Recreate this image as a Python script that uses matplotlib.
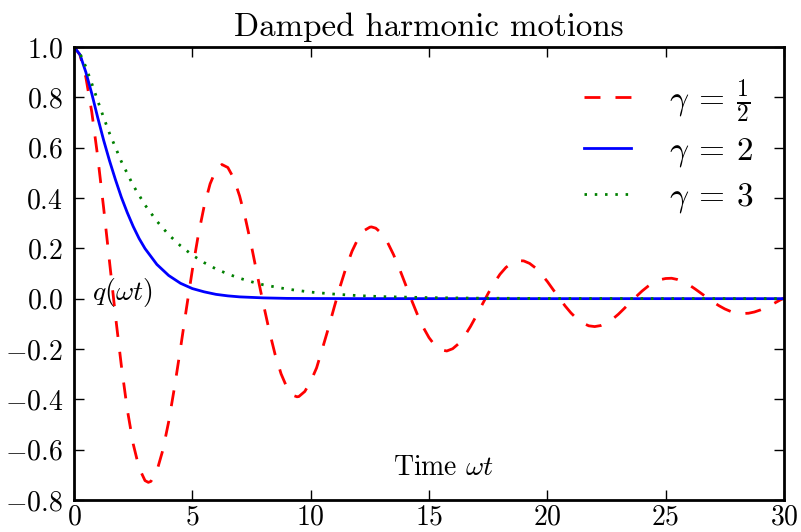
import matplotlib
matplotlib.use("Agg")
import matplotlib.pyplot as plt

plt.rcParams['font.family'] = 'serif'
plt.rcParams['font.serif'] = ['cmr10']
plt.rcParams['mathtext.fontset'] = 'cm'
plt.rcParams['axes.formatter.use_mathtext'] = True
plt.rcParams['lines.scale_dashes'] = False

# values
t_half = [0, 0.25, 0.5, 0.75, 1, 1.25, 1.5, 1.75, 2, 2.25, 2.5, 2.75, 3, 3.14,
          3.25, 3.5, 3.75, 4, 4.25, 4.5, 4.75, 5, 5.25, 5.5, 5.75, 6, 6.25,
          6.5, 6.75, 7, 7.25, 7.5, 7.75, 8, 8.25, 8.5, 8.75, 9, 9.25, 9.42,
          9.5, 9.75, 10, 10.25, 10.5, 10.75, 11, 11.25, 11.5, 11.75, 12, 12.25,
          12.5, 12.57, 12.75, 13, 13.25, 13.5, 13.75, 14, 14.25, 14.5, 14.75,
          15, 15.25, 15.5, 15.75, 16, 16.25, 16.5, 16.75, 17, 17.25, 17.5,
          17.75, 18, 18.25, 18.5, 18.75, 19, 19.25, 19.5, 19.75, 20, 20.25,
          20.5, 20.75, 21, 21.25, 21.5, 21.75, 22, 22.25, 22.5, 22.75, 23,
          23.25, 23.5, 23.75, 24, 24.25, 24.5, 24.75, 25, 25.25, 25.5, 25.75,
          26, 26.25, 26.5, 26.75, 27, 27.25, 27.5, 27.75, 28, 28.25, 28.5,
          28.75, 29, 29.25, 29.5, 29.75, 30]
q_half = [1.0, 0.969, 0.880, 0.742, 0.565, 0.362, 0.147, -0.067, -0.266,
          -0.440, -0.577, -0.673, -0.723, -0.730, -0.726, -0.685, -0.603,
          -0.489, -0.350, -0.197, -0.039, 0.114, 0.252, 0.368, 0.456, 0.512,
          0.533, 0.521, 0.478, 0.407, 0.315, 0.208, 0.091, -0.021, -0.128,
          -0.223, -0.299, -0.354, -0.384, -0.390, -0.389, -0.369, -0.329,
          -0.275, -0.197, -0.117, -0.032, 0.050, 0.125, 0.189, 0.238, 0.270,
          0.284, 0.285, 0.280, 0.259, 0.223, 0.175, 0.119, 0.058, -0.003,
          -0.061, -0.113, -0.155, -0.186, -0.203, -0.208, -0.199, -0.179,
          -0.149, -0.111, -0.068, -0.023, 0.021, 0.062, 0.097, 0.124, 0.142,
          0.151, 0.150, 0.140, 0.122, 0.097, 0.068, 0.035, 0.003, -0.029,
          -0.057, -0.080, -0.097, -0.108, -0.111, -0.107, -0.097, -0.082,
          -0.062, -0.039, -0.015, 0.008, 0.030, 0.049, 0.065, 0.075, 0.080,
          0.081, 0.076, 0.067, 0.054, 0.038, 0.021, 0.004, -0.013, -0.028,
          -0.041, -0.051, -0.057, -0.059, -0.058, -0.053, -0.045, -0.035,
          -0.023, -0.010, 0.003]

t_two = [0, 0.25, 0.5, 0.75, 1, 1.25, 1.5, 1.75, 2, 2.25, 2.5, 2.75, 3, 3.5,
         4, 4.5, 5, 5.5, 6, 6.5, 7, 7.5, 8, 9, 10, 12, 15, 20, 30]
q_two = [1.0, 0.97, 0.90, 0.815, 0.72, 0.63, 0.548, 0.473, 0.403, 0.342,
         0.287, 0.239, 0.199, 0.136, 0.092, 0.061, 0.040, 0.027, 0.017, 0.011,
         0.007, 0.005, 0.003, 0.001, 0.0005, 0.0001, 0, 0, 0]

t_three = [0, 0.25, 0.5, 0.75, 1, 1.25, 1.5, 2, 2.5, 3, 3.5, 4, 4.5, 5, 5.5,
           6, 6.5, 7, 7.5, 8, 9, 10, 11, 12, 13, 14, 15, 17, 20, 25, 30]
q_three = [1.0, 0.975, 0.921, 0.855, 0.787, 0.720, 0.657, 0.545, 0.450, 0.372,
           0.308, 0.254, 0.210, 0.173, 0.143, 0.118, 0.098, 0.081, 0.067,
           0.055, 0.038, 0.026, 0.018, 0.012, 0.008, 0.006, 0.004, 0.002,
           0.0006, 0.0001, 0]

labels = [r'$\gamma\:=\:\frac{1}{2}$', r'$\gamma\:=\:2$', r'$\gamma\:=\:3$']

fig = plt.figure(figsize=(8.01, 5.32), dpi=100)
ax = fig.add_axes([0.0924, 0.0602, 0.8864, 0.8515])

ax.plot(t_half, q_half, color='red', lw=2, dashes=(11.5, 10.8), label=labels[0])
ax.plot(t_two, q_two, color='blue', lw=2, label=labels[1])
ax.plot(t_three, q_three, color='green', lw=2, dashes=(1.8, 5.6), label=labels[2])

ax.set_xlim(0, 30)
ax.set_ylim(-0.8, 1.0)
ax.set_xticks([0, 5, 10, 15, 20, 25, 30])
ax.set_yticks([-0.8, -0.6, -0.4, -0.2, 0.0, 0.2, 0.4, 0.6, 0.8, 1.0])
ax.tick_params(direction='in', length=7, width=1, labelsize=20, pad=3,
               top=True, right=True)
ax.tick_params(axis='y', pad=8)
for s in ax.spines.values():
    s.set_linewidth(2)

ax.set_title('Damped harmonic motions', fontsize=23.7, pad=8)
ax.set_xlabel(r'Time $\omega t$', fontsize=20)
ax.xaxis.set_label_coords(0.52, 0.1)
ax.set_ylabel(r'$q(\omega t)$', fontsize=20, rotation=0, ha='left', va='center')
ax.yaxis.set_label_coords(0.026, 0.457)

ax.legend(loc='upper right', frameon=False, fontsize=24, handlelength=1.41,
          labelspacing=0.35, handletextpad=1.14)

fig.savefig('out.png', dpi=100)
